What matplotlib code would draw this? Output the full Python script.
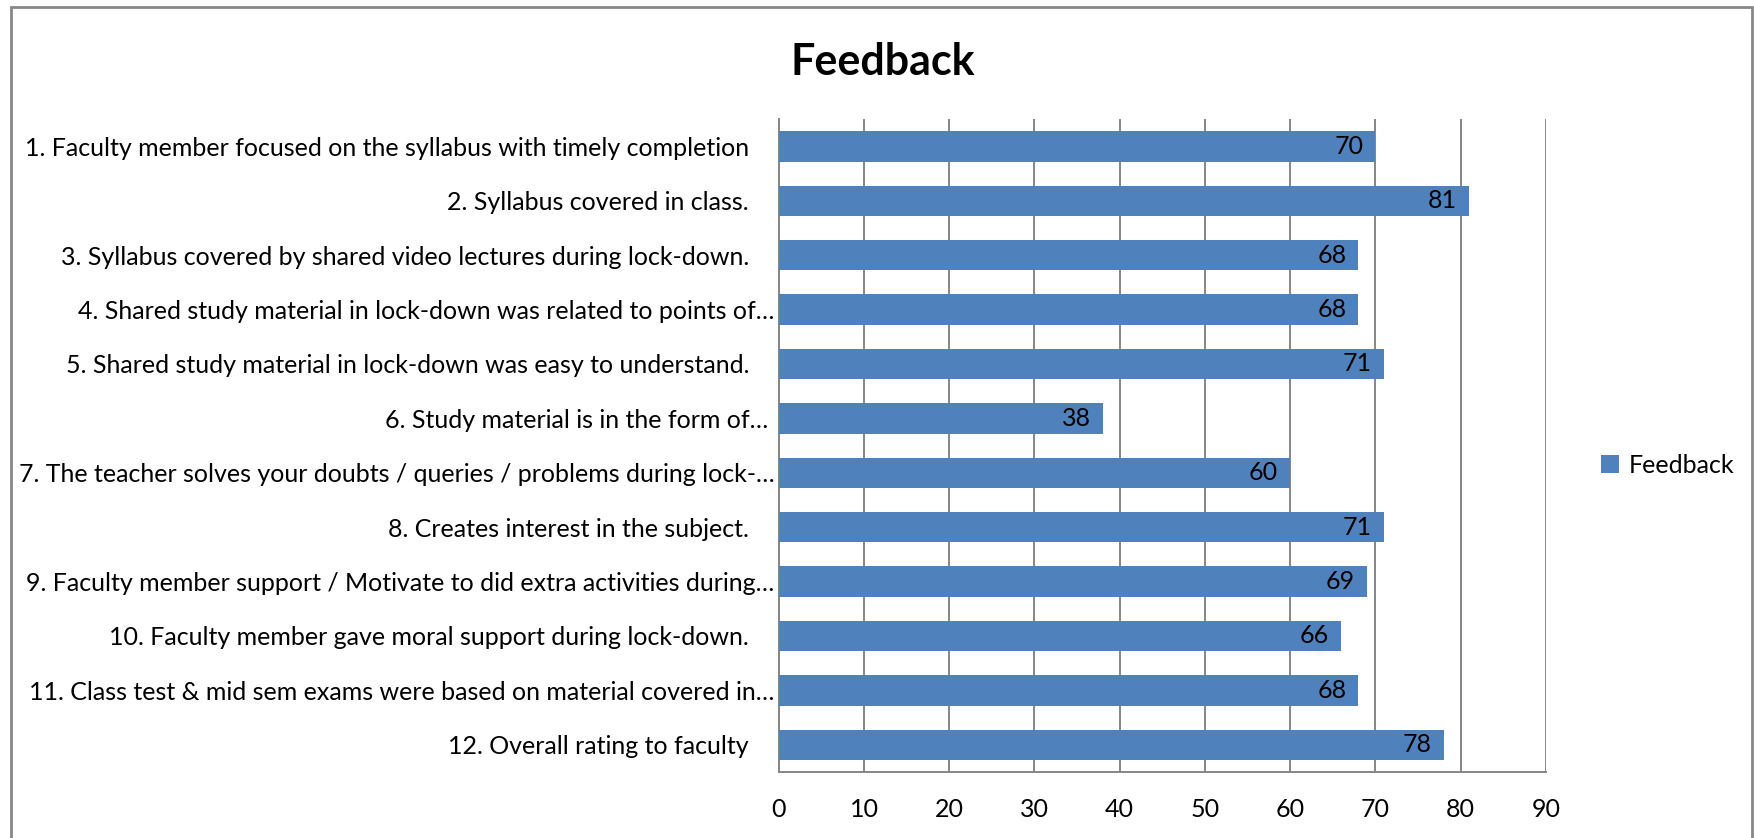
import matplotlib.pyplot as plt
from matplotlib.patches import Rectangle

plt.rcParams['font.family'] = ['Lato', 'DejaVu Sans']

# the labels without an ellipsis carry trailing spaces, as in the source sheet
questions = [
    '1. Faculty member focused on the syllabus with timely completion    ',
    '2. Syllabus covered in class.    ',
    '3. Syllabus covered by shared video lectures during lock-down.    ',
    '4. Shared study material in lock-down was related to points of\u2026',
    '5. Shared study material in lock-down was easy to understand.    ',
    '6. Study material is in the form of\u2026 ',
    '7. The teacher solves your doubts / queries / problems during lock-\u2026',
    '8. Creates interest in the subject.    ',
    '9. Faculty member support / Motivate to did extra activities during\u2026',
    '10. Faculty member gave moral support during lock-down.    ',
    '11. Class test & mid sem exams were based on material covered in\u2026',
    '12. Overall rating to faculty    ',
]
scores = [70, 81, 68, 68, 71, 38, 60, 71, 69, 66, 68, 78]
x_ticks = [0, 10, 20, 30, 40, 50, 60, 70, 80, 90]

bar_color = '#4F81BD'
grid_color = '#868686'

fig = plt.figure(figsize=(17.54, 8.38), dpi=100)
ax = fig.add_axes([0.444, 0.0788, 0.4373, 0.779])

pos = list(range(len(questions)))
bars = ax.barh(pos, scores, height=0.56, color=bar_color, label='Feedback', zorder=3)

for p, v in zip(pos, scores):
    ax.text(v - 1.4, p, str(v), ha='right', va='center', fontsize=18, color='black', zorder=4)

ax.set_ylim(len(questions) - 0.5, -0.5)
ax.set_xlim(0, 90)
ax.set_xticks(x_ticks)
ax.set_yticks(pos)
ax.set_yticklabels(questions, fontsize=18)
ax.tick_params(axis='x', labelsize=18, length=0, pad=19)
ax.tick_params(axis='y', length=0, pad=3)
ax.xaxis.grid(True, color=grid_color, linewidth=1.4, zorder=0)

for side in ['top', 'right']:
    ax.spines[side].set_visible(False)
for side in ['left', 'bottom']:
    ax.spines[side].set_color(grid_color)
    ax.spines[side].set_linewidth(1.4)

fig.text(0.503, 0.926, 'Feedback', ha='center', va='center', fontsize=31, fontweight='bold')

fig.legend(handles=[bars], labels=['Feedback'], loc='center left', bbox_to_anchor=(0.9, 0.445),
           frameon=False, fontsize=18, handlelength=0.7, handleheight=0.7, handletextpad=0.4)

# outer chart border
fig.patches.append(Rectangle((11 / 1754, -0.05), 1741 / 1754, 1.05 - 7 / 838, transform=fig.transFigure,
                             fill=False, edgecolor='#888888', linewidth=2))

fig.savefig('out.png', dpi=100)
